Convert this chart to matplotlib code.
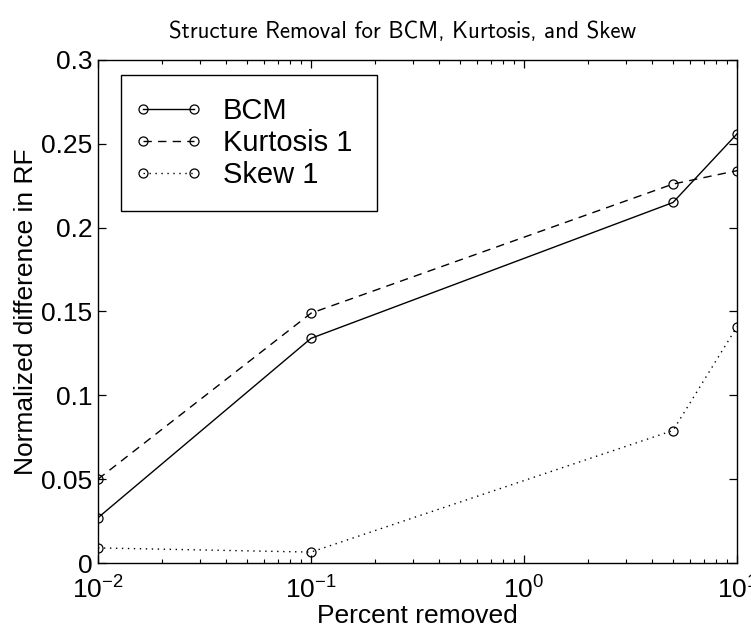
import matplotlib
matplotlib.use("Agg")
import matplotlib.pyplot as plt
from matplotlib.ticker import FixedLocator, FixedFormatter
from matplotlib.legend_handler import HandlerLine2D

plt.rcParams['font.family'] = ['Liberation Sans', 'DejaVu Sans']
plt.rcParams['mathtext.fontset'] = 'custom'
plt.rcParams['mathtext.rm'] = 'Liberation Sans'
plt.rcParams['mathtext.it'] = 'Liberation Sans:italic'

# data
pct_removed = [0.01, 0.1, 5, 10]
bcm = [0.027, 0.134, 0.215, 0.256]
kurtosis = [0.050, 0.149, 0.226, 0.234]
skew = [0.009, 0.0065, 0.079, 0.141]

yticks = [0, 0.05, 0.1, 0.15, 0.2, 0.25, 0.3]
ytick_labels = ['0', '0.05', '0.1', '0.15', '0.2', '0.25', '0.3']

fig = plt.figure(figsize=(7.51, 6.28), dpi=100)
ax = fig.add_axes([0.1305, 0.1035, 0.851, 0.801])

mk = dict(marker='o', markersize=6.5, markerfacecolor='none',
          markeredgecolor='black', markeredgewidth=0.9, color='black', linewidth=1.0)
l1, = ax.plot(pct_removed, bcm, linestyle='-', label='BCM', **mk)
l2, = ax.plot(pct_removed, kurtosis, linestyle=(0, (6, 4.5)), label='Kurtosis 1', **mk)
l3, = ax.plot(pct_removed, skew, linestyle=(0, (1, 3.3)), label='Skew 1', **mk)

ax.set_xscale('log')
ax.set_xlim(0.01, 10)
ax.set_ylim(0, 0.3)
ax.yaxis.set_major_locator(FixedLocator(yticks))
ax.yaxis.set_major_formatter(FixedFormatter(ytick_labels))

ax.tick_params(which='both', direction='in', top=True, right=True, labelsize=19)
ax.tick_params(which='major', length=6, width=0.9)
ax.tick_params(which='minor', length=3, width=0.8)
ax.tick_params(axis='x', pad=10)
ax.tick_params(axis='y', pad=4)
for s in ax.spines.values():
    s.set_linewidth(1.0)

ax.set_xlabel('Percent removed', fontsize=19, labelpad=0)
ax.set_ylabel('Normalized difference in RF', fontsize=19, labelpad=2)
ax.set_title('Structure Removal for BCM, Kurtosis, and Skew', fontsize=16.5,
             family='cmss10', pad=16, x=0.476)

# markers sit at the very ends of the legend line, as in the original
hmap = {h: HandlerLine2D(marker_pad=0.0) for h in (l1, l2, l3)}
leg = ax.legend(loc='upper left', bbox_to_anchor=(0.036, 0.702, 0.40, 0.268),
                mode='expand', fontsize=21, numpoints=2, handlelength=1.75,
                handletextpad=1.0, borderpad=0.75, labelspacing=0.14,
                borderaxespad=0, fancybox=False, edgecolor='black', framealpha=1,
                handler_map=hmap)
leg.get_frame().set_linewidth(1.0)

fig.savefig('out.png', dpi=100)
